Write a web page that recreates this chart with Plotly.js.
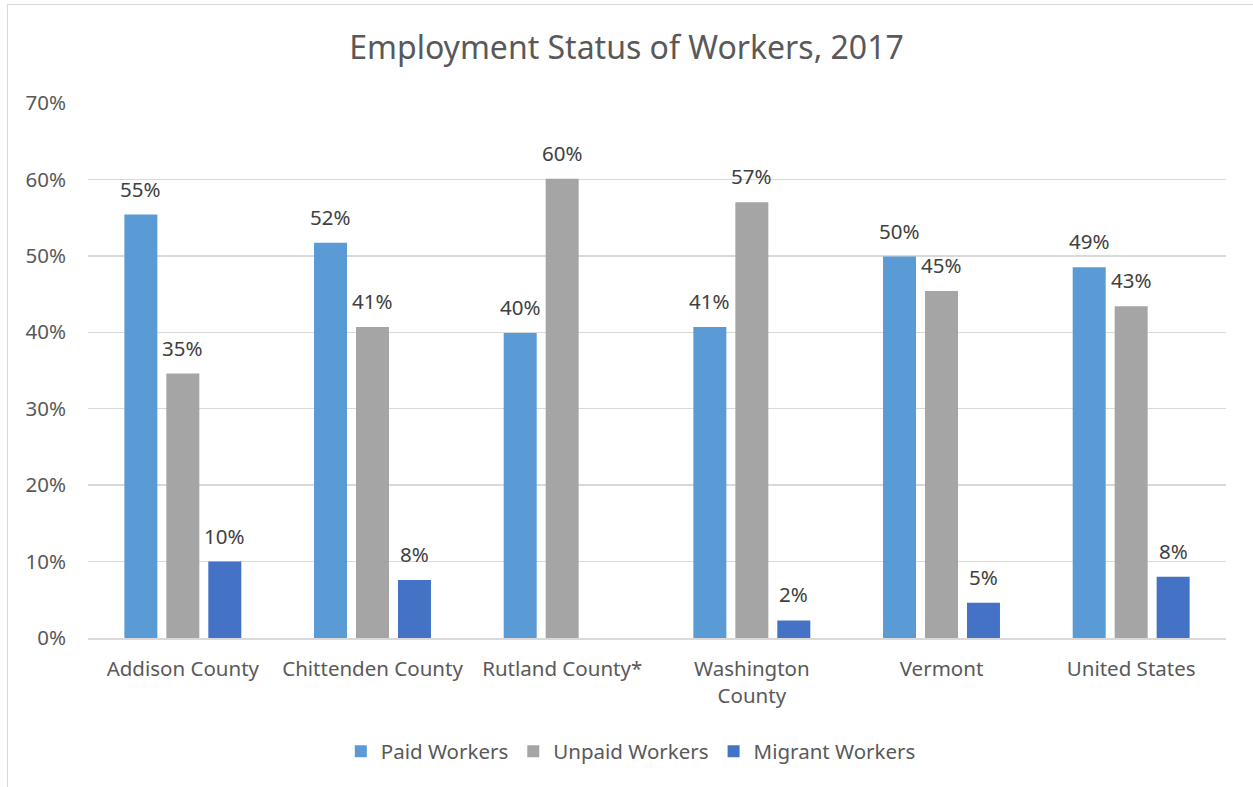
<!DOCTYPE html>
<html>
<head>
<meta charset="utf-8">
<script src="https://cdn.plot.ly/plotly-3.0.1.min.js"></script>
<style>
html,body{margin:0;padding:0;background:#fff;}
#frame{position:absolute;left:7px;top:4px;width:1260px;height:800px;border-left:1px solid #d9d9d9;border-top:1px solid #d9d9d9;}
#chart{position:absolute;left:0;top:0;width:1253px;height:787px;}
</style>
</head>
<body>
<div id="frame"></div>
<div id="chart"></div>
<script>
const categories = ["Addison County", "Chittenden County", "Rutland County*", "Washington<br>County", "Vermont", "United States"];
const paidWorkers = [0.554, 0.517, 0.399, 0.407, 0.499, 0.485];
const unpaidWorkers = [0.346, 0.407, 0.601, 0.570, 0.454, 0.434];
const migrantWorkers = [0.100, 0.076, null, 0.023, 0.046, 0.080];
const seriesNames = ["Paid Workers", "Unpaid Workers", "Migrant Workers"];
const seriesColors = ["#5b9bd5", "#a5a5a5", "#4472c4"];
const yTicks = [0, 0.1, 0.2, 0.3, 0.4, 0.5, 0.6, 0.7];

const FONT = "Noto Sans, Open Sans, sans-serif";
const TXT = "#595959";
const FS = 20.5;

const allSeries = [paidWorkers, unpaidWorkers, migrantWorkers];

const traces = allSeries.map((vals, i) => ({
  type: "bar",
  name: seriesNames[i],
  x: categories,
  y: vals,
  marker: {color: seriesColors[i]},
  hoverinfo: "skip"
}));

// data labels as annotations above each bar
const annotations = [];
allSeries.forEach((vals, i) => {
  vals.forEach((v, j) => {
    if (v === null) return;
    annotations.push({
      x: categories[j], y: v, xref: "x", yref: "y",
      text: Math.round(v * 100) + "%",
      showarrow: false, xanchor: "center", yanchor: "bottom",
      xshift: (i - 1) * 42, yshift: 10,
      font: {family: FONT, size: FS, color: "#404040"}
    });
  });
});

const layout = {
  width: 1253, height: 787,
  paper_bgcolor: "rgba(0,0,0,0)",
  plot_bgcolor: "rgba(0,0,0,0)",
  margin: {l: 88, r: 27, t: 103, b: 149},
  title: {text: "Employment Status of Workers, 2017", x: 0.5, xanchor: "center", y: 0.939, yanchor: "middle",
          font: {family: FONT, size: 32, color: TXT}},
  barmode: "group",
  bargap: 0.336,
  bargroupgap: 0.214,
  font: {family: FONT, color: TXT},
  annotations: annotations,
  xaxis: {
    tickfont: {family: FONT, size: FS, color: TXT},
    showgrid: false, showline: true, linecolor: "#d9d9d9", linewidth: 1.5,
    ticks: "", ticklabelstandoff: 12, automargin: false, fixedrange: true
  },
  yaxis: {
    range: [0, 0.7],
    tickvals: yTicks,
    tickformat: ".0%",
    tickfont: {family: FONT, size: FS, color: TXT},
    showgrid: true, gridcolor: "#d9d9d9", gridwidth: 1.5,
    zeroline: false, ticks: "", ticklabelstandoff: 21, automargin: false, fixedrange: true
  },
  legend: {
    orientation: "h", x: 0.477, xanchor: "center", y: -0.212, yanchor: "middle",
    font: {family: FONT, size: FS, color: TXT},
    itemwidth: 30, traceorder: "normal"
  },
  showlegend: true
};

Plotly.newPlot("chart", traces, layout, {staticPlot: true, displayModeBar: false});
</script>
</body>
</html>
